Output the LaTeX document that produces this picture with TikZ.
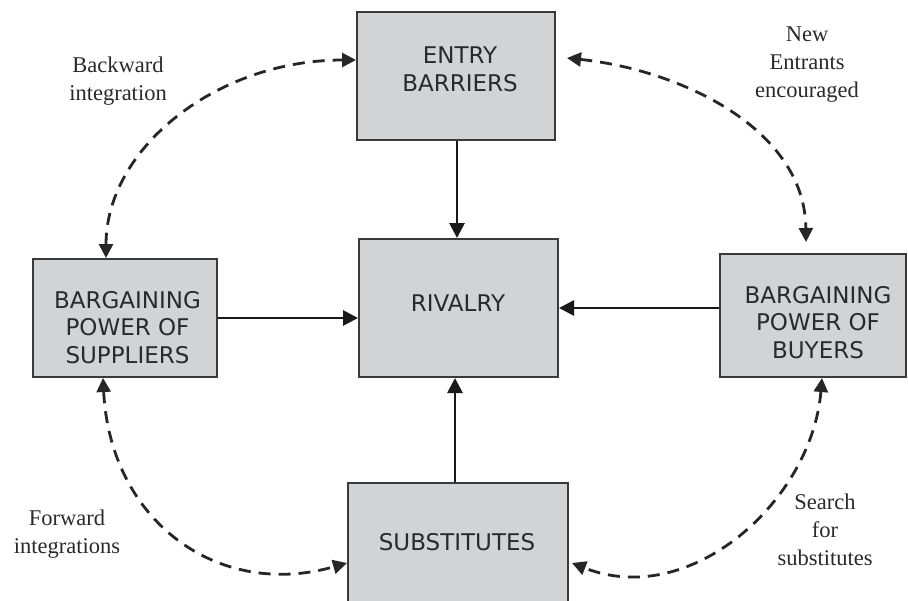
\documentclass[tikz,border=0pt]{standalone}
\usepackage{fontspec}
\setmainfont{Liberation Serif}
\newfontfamily\boxfont{DejaVu Sans}
\usetikzlibrary{arrows.meta}
\definecolor{boxfill}{HTML}{D2D3D5}
\definecolor{boxline}{HTML}{3A3A3A}
\definecolor{txt}{HTML}{2A2A2A}
\tikzset{
  fbox/.style={draw=boxline, line width=2pt, fill=boxfill, rectangle, inner sep=0pt},
  boxtext/.style={font=\boxfont\fontsize{23}{27.5}\selectfont, text=txt, align=center, inner sep=0pt},
  lbl/.style={font=\fontsize{22.5}{28}\selectfont, text=txt, align=center, inner sep=0pt},
  solidarrow/.style={draw=black!90, line width=2.8pt, -{Triangle[length=15pt,width=15pt]}},
  dcurve/.style={draw=black!85, line width=2.8pt, dash pattern=on 12pt off 8pt, {Triangle[length=14pt,width=14pt]}-{Triangle[length=14pt,width=14pt]}}
}
\begin{document}
\begin{tikzpicture}[x=1pt,y=-1pt]
\clip (0,0) rectangle (908,600);
\fill[white] (0,0) rectangle (908,600);
% boxes
\node[fbox, minimum width=198pt, minimum height=128pt] (entry) at (456,76) {};
\node[fbox, minimum width=199pt, minimum height=138pt] (rivalry) at (458.5,308) {};
\node[fbox, minimum width=184pt, minimum height=118pt] (suppliers) at (125,318) {};
\node[fbox, minimum width=186pt, minimum height=123pt] (buyers) at (813,315.5) {};
\node[fbox, minimum width=220pt, minimum height=140pt] (subs) at (458,553) {};
% box texts
\node[boxtext] (entryT) at (460,69.5) {ENTRY\\BARRIERS};
\node[boxtext] (rivalryT) at (458,303) {RIVALRY};
\node[boxtext] (suppliersT) at (127.5,327.5) {BARGAINING\\POWER OF\\SUPPLIERS};
\node[boxtext] (buyersT) at (818,322.5) {BARGAINING\\POWER OF\\BUYERS};
\node[boxtext] (subsT) at (457,542) {SUBSTITUTES};
% solid arrows
\draw[solidarrow] ([xshift=1pt]entry.south) -- ([xshift=1pt]entry.south |- rivalry.north);
\draw[solidarrow] (suppliers.east) -- (suppliers.east -| rivalry.west);
\draw[solidarrow] ([yshift=7.5pt]buyers.west) -- ([yshift=7.5pt]buyers.west -| rivalry.east);
\draw[solidarrow] ([xshift=-1pt]entry.south |- subs.north) -- ([xshift=-1pt]entry.south |- rivalry.south);
% dashed curves
\draw[dcurve] ([xshift=-19pt]suppliers.north) .. controls +(0,-110) and +(-139,0) .. ([yshift=16pt]entry.west);
\draw[dcurve] ([xshift=11pt,yshift=18pt]entry.east) .. controls +(114,12) and +(-1,-113) .. ([xshift=-7pt,yshift=11pt]buyers.north);
\draw[dcurve] ([xshift=-22pt]suppliers.south) .. controls +(7,143) and +(-129,37) .. ([yshift=-10pt]subs.west);
\draw[dcurve] ([xshift=9pt]buyers.south) .. controls +(-10,122) and +(119,47) .. ([xshift=3pt,yshift=-10pt]subs.east);
% labels
\node[lbl] (backL) at (118,81) {Backward\\integration};
\node[lbl] (newL) at (807,64.5) {New\\Entrants\\encouraged};
\node[lbl] (fwdL) at (67,534) {Forward\\integrations};
\node[lbl] (searchL) at (825,530) {Search\\for\\substitutes};
\end{tikzpicture}
\end{document}
